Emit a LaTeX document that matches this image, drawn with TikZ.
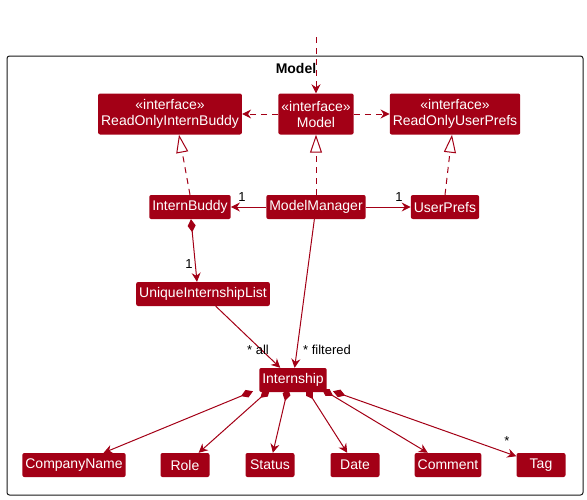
\documentclass[tikz,border=0pt]{standalone}
\usepackage{fontspec}
\setmainfont{Liberation Sans}
\usepackage{xcolor}
\usepackage{tikz}
\usetikzlibrary{arrows.meta, positioning}
\definecolor{umlred}{RGB}{163,0,22}
\definecolor{framegray}{RGB}{24,24,24}
\tikzstyle{umlbox} = [fill=umlred, text=white, rounded corners=2pt, inner xsep=3pt, inner ysep=2pt, minimum height=24pt, minimum width=49pt, font=\fontsize{14}{16}\selectfont]
\tikzstyle{ifacebox} = [umlbox, align=center, minimum height=41pt]
\tikzstyle{assoc} = [-{Stealth[length=9pt, width=9pt, inset=3pt]}, line width=1pt, draw=umlred]
\tikzstyle{dep} = [assoc, dash pattern=on 6pt off 5pt]
\tikzstyle{realize} = [-{Triangle[open, length=18pt, width=12pt, fill=white]}, line width=1pt, draw=umlred, dash pattern=on 6pt off 5pt]
\tikzstyle{compose} = [{Diamond[length=13pt, width=8pt]}-{Stealth[length=9pt, width=9pt, inset=3pt]}, line width=1pt, draw=umlred]
\tikzstyle{mult} = [font=\fontsize{13}{15}\selectfont, inner sep=0pt]

\begin{document}
\begin{tikzpicture}[x=1pt, y=-1pt]
    \useasboundingbox (0,0) rectangle (587,499);
    % package frame
    \draw[framegray, line width=1pt, rounded corners=2.5pt] (7,56) rectangle (583,495);
    \node[font=\fontsize{14}{16}\selectfont\bfseries] (title) at (296,68) {Model};

    % interfaces
    \node[ifacebox] (model) at (316,114) {«interface»\\Model};
    \node[ifacebox] (roib) at (170,114) {«interface»\\ReadOnlyInternBuddy};
    \node[ifacebox] (roup) at (455,114) {«interface»\\ReadOnlyUserPrefs};

    % classes
    \node[umlbox] (modelmanager) at (316,207) {ModelManager};
    \node[umlbox] (internbuddy) at (190,207) {InternBuddy};
    \node[umlbox] (userprefs) at (445,207) {UserPrefs};
    \node[umlbox] (uniquelist) at (203,294) {UniqueInternshipList};
    \node[umlbox] (internship) at (293,380) {Internship};

    \node[umlbox] (companyname) at (74,465) {CompanyName};
    \node[umlbox] (role) at (185,465) {Role};
    \node[umlbox] (status) at (270,465) {Status};
    \node[umlbox] (date) at (355,465) {Date};
    \node[umlbox] (comment) at (448,465) {Comment};
    \node[umlbox] (tag) at (541,465) {Tag};

    % dependencies
    \coordinate (outside) at (316,37);
    \draw[dep] (outside) -- (model);
    \draw[dep] (model) -- (roib);
    \draw[dep] (model) -- (roup);

    % realizations
    \draw[realize] (internbuddy.north) -- ([xshift=9pt]roib.south);
    \draw[realize] (modelmanager) -- (model);
    \draw[realize] (userprefs.north) -- ([xshift=-3pt]roup.south);

    % associations
    \draw[assoc] (modelmanager) -- (internbuddy);
    \node[mult] at (242,197) {1};
    \draw[assoc] (modelmanager) -- (userprefs);
    \node[mult] at (399,197) {1};
    \draw[compose] ([xshift=1pt]internbuddy.south) -- ([xshift=-6pt]uniquelist.north);
    \node[mult] at (189,264) {1};
    \draw[assoc] (uniquelist) -- (internship);
    \node[mult] at (258,350) {* all};
    \draw[assoc] (modelmanager) -- (internship);
    \node[mult] at (327,350) {* filtered};

    % attributes of an internship
    \draw[compose] ([xshift=-40pt, yshift=1pt]internship.south) -- (companyname);
    \draw[compose] ([xshift=-23pt, yshift=3pt]internship.south) -- (role);
    \draw[compose] ([xshift=-5pt, yshift=4pt]internship.south) -- (status);
    \draw[compose] ([xshift=13pt, yshift=4pt]internship.south) -- (date);
    \draw[compose] ([xshift=29pt, yshift=3pt]internship.south) -- (comment);
    \draw[compose] ([xshift=40pt, yshift=1pt]internship.south) -- (tag);
    \node[mult] at (507,441) {*};
\end{tikzpicture}
\end{document}
